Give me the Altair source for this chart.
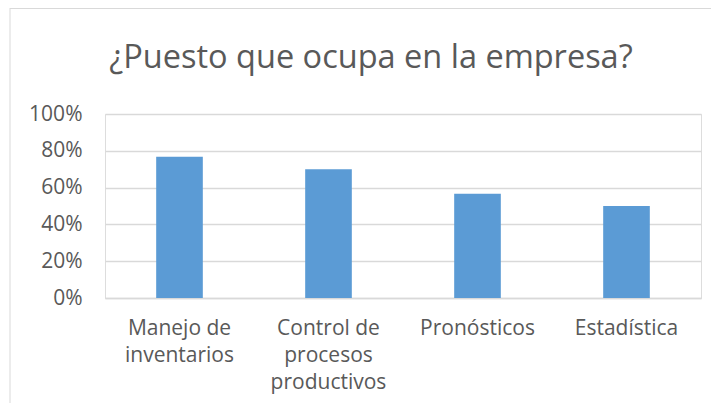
import altair as alt
import pandas as pd

categories = ["Manejo de|inventarios", "Control de|procesos|productivos", "Pronósticos", "Estadística"]
values = [0.767, 0.70, 0.567, 0.50]
y_ticks = [0, 0.2, 0.4, 0.6, 0.8, 1.0]
title_text = ["¿Puesto que ocupa en la empresa?"]

df = pd.DataFrame({"cat": categories, "val": values})
title_df = pd.DataFrame({"t": title_text})

FONT = "Open Sans"
TEXT = "#595959"
GRID = "#D9D9D9"
BAR = "#5B9BD5"

W, H = 596, 184
PAD_L, PAD_T = 97, 106

bars = alt.Chart(df).mark_bar(color=BAR).encode(
    x=alt.X(
        "cat:N", sort=categories, title=None,
        scale=alt.Scale(paddingInner=0.687, paddingOuter=0.3435),
        axis=alt.Axis(
            labelExpr="split(datum.label, '|')", labelAngle=0,
            ticks=False, tickSize=0, domain=True, domainColor=GRID, domainWidth=1.3,
            labelFont=FONT, labelFontSize=21, labelColor=TEXT,
            labelPadding=19, labelLineHeight=27, labelBaseline="top",
        ),
    ),
    y=alt.Y(
        "val:Q", title=None,
        scale=alt.Scale(domain=[0, 1], nice=False),
        axis=alt.Axis(
            values=y_ticks, format=".0%", grid=True, gridColor=GRID, gridWidth=1.3,
            domain=False, ticks=False, tickSize=0,
            labelFont=FONT, labelFontSize=21, labelColor=TEXT, labelPadding=23,
        ),
    ),
)

title = alt.Chart(title_df).mark_text(
    font=FONT, fontSize=32.5, color=TEXT, align="center", baseline="alphabetic"
).encode(text="t:N", x=alt.value(266), y=alt.value(-46))

frame_df = pd.DataFrame({"k": [0]})
frame_left = alt.Chart(frame_df).mark_rule(color=GRID, strokeWidth=1).encode(
    x=alt.value(-95), y=alt.value(-PAD_T), y2=alt.value(H + 120)
)
frame_top = alt.Chart(frame_df).mark_rule(color=GRID, strokeWidth=1).encode(
    y=alt.value(-PAD_T + 0.5), x=alt.value(-95), x2=alt.value(W + 40)
)

chart = alt.layer(frame_left, frame_top, bars, title).properties(
    width=W, height=H,
    autosize=alt.AutoSizeParams(type="none"),
    padding={"left": PAD_L, "top": PAD_T, "right": 10, "bottom": 105},
).configure_view(stroke=None).configure(background="white")

chart.save("out.html", embed_options={"renderer": "svg", "actions": False})
